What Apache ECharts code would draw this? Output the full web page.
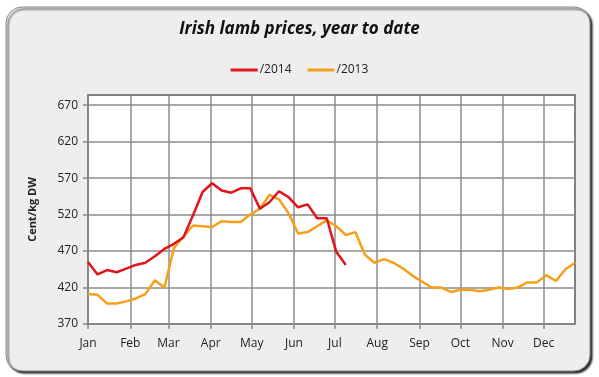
<!DOCTYPE html>
<html>
<head>
<meta charset="utf-8">
<script src="https://cdn.jsdelivr.net/npm/echarts@6/dist/echarts.min.js"></script>
<style>
  html, body { margin: 0; padding: 0; background: #ffffff; }
  #main { width: 599px; height: 377px; }
</style>
</head>
<body>
<div id="main"></div>
<script>
// weekly prices, cent/kg DW
const monthNames = ['Jan', 'Feb', 'Mar', 'Apr', 'May', 'Jun', 'Jul', 'Aug', 'Sep', 'Oct', 'Nov', 'Dec']
const yearStart = '2013-01-01'
const yearEnd = '2013-12-24'

const prices2014 = [
  455, 438, 444, 441, 446, 451, 454, 463, 473, 480,
  489, 519, 551, 563, 553, 550, 556, 556, 528, 537,
  552, 544, 530, 534, 515, 515, 469, 451
]
const prices2013 = [
  411, 410, 398, 398, 401, 405, 411, 430, 420, 474,
  490, 505, 504, 503, 511, 510, 510, 520, 528, 547,
  541, 522, 494, 496, 504, 512, 504, 492, 496, 465,
  454, 459, 454, 446, 436, 428, 420, 420, 414, 417,
  417, 415, 417, 420, 418, 420, 427, 427, 437, 429,
  445, 454
]

// one point per week, starting on 1 Jan
const dayMs = 24 * 3600 * 1000
const t0 = new Date(yearStart + 'T00:00:00').getTime()
const weekDates = prices2013.map((v, i) => t0 + i * 7 * dayMs)

const pair = arr => arr.map((v, i) => [weekDates[i], v])

const myChart = echarts.init(document.getElementById('main'))
myChart.setOption({
  animation: false,
  textStyle: { fontFamily: 'Open Sans' },
  graphic: [{
    type: 'rect',
    z: -10,
    shape: { x: 6, y: 7, width: 584, height: 364, r: 16 },
    style: {
      fill: '#eeeeee',
      stroke: '#8a8a8a',
      lineWidth: 1,
      shadowBlur: 2,
      shadowOffsetX: 2,
      shadowOffsetY: 2,
      shadowColor: 'rgba(0,0,0,0.85)'
    }
  }],
  title: {
    text: 'Irish lamb prices, year to date',
    left: 'center',
    top: 16,
    textStyle: {
      fontFamily: 'Open Sans',
      fontStyle: 'italic',
      fontWeight: 'bold',
      fontSize: 17,
      color: '#111'
    }
  },
  legend: {
    top: 59,
    left: 'center',
    itemGap: 16,
    itemWidth: 27,
    itemHeight: 3,
    icon: 'rect',
    textStyle: { fontSize: 12, color: '#222', padding: [0, 0, 0, -3] },
    data: ['/2014', '/2013']
  },
  grid: {
    left: 88,
    right: 24,
    top: 95,
    bottom: 53,
    show: true,
    backgroundColor: '#ffffff',
    borderColor: '#333',
    borderWidth: 1.5
  },
  xAxis: {
    type: 'time',
    min: new Date(yearStart + 'T00:00:00').getTime(),
    max: new Date(yearEnd + 'T00:00:00').getTime(),
    splitNumber: 12,
    axisLine: { lineStyle: { color: '#888', width: 1.5 } },
    axisTick: { show: true, length: 5, lineStyle: { color: '#888', width: 1.5 } },
    minorTick: { show: false },
    splitLine: { show: true, lineStyle: { color: '#8c8c8c', width: 1.5 } },
    axisLabel: {
      color: '#222',
      fontSize: 12,
      margin: 14,
      hideOverlap: false,
      formatter: val => monthNames[new Date(val).getMonth()]
    }
  },
  yAxis: {
    type: 'value',
    name: 'Cent/kg DW',
    nameLocation: 'middle',
    nameGap: 50,
    nameTextStyle: { fontSize: 11, fontWeight: 'bold', color: '#222' },
    min: 370,
    max: 684,
    interval: 50,
    axisLine: { show: true, lineStyle: { color: '#888', width: 1.5 } },
    axisTick: { show: true, length: 5, lineStyle: { color: '#888', width: 1.5 } },
    splitLine: { lineStyle: { color: '#8c8c8c', width: 1.5 } },
    axisLabel: { color: '#222', fontSize: 12, margin: 10, showMaxLabel: false }
  },
  series: [
    {
      name: '/2014',
      type: 'line',
      data: pair(prices2014),
      showSymbol: false,
      color: '#e2141b',
      lineStyle: { width: 2.5 },
      z: 3
    },
    {
      name: '/2013',
      type: 'line',
      data: pair(prices2013),
      showSymbol: false,
      color: '#f5a01a',
      lineStyle: { width: 2.5 },
      z: 2
    }
  ]
})
</script>
</body>
</html>
